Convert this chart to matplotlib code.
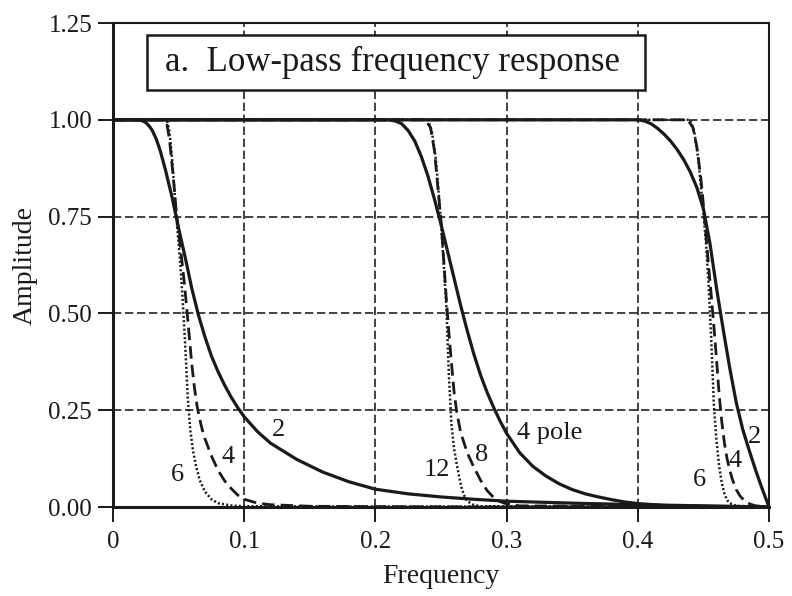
import matplotlib
matplotlib.use("Agg")
import matplotlib.pyplot as plt
from matplotlib.patches import Rectangle

plt.rcParams['font.family'] = ['Liberation Serif', 'DejaVu Serif']

# ---- data ----
# cutoff 0.05 group
f_lo2 = [0, 0.02, 0.022, 0.025, 0.028, 0.03, 0.033, 0.036, 0.04, 0.045, 0.05, 0.055, 0.06, 0.065,
         0.07, 0.075, 0.08, 0.085, 0.09, 0.095, 0.1, 0.11, 0.12, 0.14, 0.16, 0.18, 0.2, 0.225,
         0.25, 0.275, 0.3, 0.35, 0.4, 0.45, 0.5]
a_lo2 = [1.0, 1.0, 0.998, 0.993, 0.982, 0.972, 0.95, 0.92, 0.87, 0.80, 0.72, 0.645, 0.565, 0.497,
         0.44, 0.39, 0.35, 0.315, 0.284, 0.257, 0.233, 0.195, 0.165, 0.123, 0.09, 0.065, 0.046, 0.034,
         0.026, 0.02, 0.015, 0.01, 0.006, 0.003, 0.0]

f_lo4 = [0, 0.038, 0.041, 0.043, 0.046, 0.048, 0.05, 0.052, 0.054, 0.056, 0.058, 0.06, 0.062,
         0.064, 0.066, 0.068, 0.07, 0.075, 0.08, 0.085, 0.09, 0.095, 0.1, 0.11, 0.12, 0.15, 0.2,
         0.3, 0.5]
a_lo4 = [1.0, 1.0, 0.99, 0.95, 0.85, 0.77, 0.71, 0.65, 0.59, 0.52, 0.445, 0.37, 0.31,
         0.262, 0.228, 0.2, 0.177, 0.132, 0.095, 0.068, 0.048, 0.031, 0.02, 0.01, 0.006, 0.002, 0.001,
         0.0, 0.0]

f_lo6 = [0, 0.041, 0.043, 0.045, 0.047, 0.049, 0.051, 0.053, 0.055, 0.057, 0.059, 0.061,
         0.063, 0.066, 0.07, 0.075, 0.08, 0.09, 0.1, 0.5]
a_lo6 = [1.0, 1.0, 0.97, 0.9, 0.81, 0.72, 0.64, 0.54, 0.42, 0.28, 0.195, 0.145,
         0.11, 0.07, 0.04, 0.02, 0.01, 0.004, 0.002, 0.0]

# cutoff 0.25 group
f_mid4 = [0, 0.21, 0.215, 0.22, 0.225, 0.23, 0.235, 0.24, 0.245, 0.25, 0.255, 0.26, 0.265, 0.27,
          0.275, 0.28, 0.285, 0.29, 0.295, 0.3, 0.31, 0.32, 0.33, 0.34, 0.35, 0.36, 0.37, 0.38,
          0.39, 0.4, 0.42, 0.45, 0.5]
a_mid4 = [1.0, 1.0, 0.997, 0.99, 0.972, 0.945, 0.905, 0.855, 0.795, 0.73, 0.66, 0.59, 0.52, 0.455,
          0.395, 0.342, 0.297, 0.258, 0.222, 0.19, 0.14, 0.105, 0.08, 0.06, 0.045, 0.034, 0.026,
          0.019, 0.013, 0.009, 0.004, 0.002, 0.0]

f_mid8 = [0, 0.238, 0.242, 0.245, 0.248, 0.25, 0.252, 0.254, 0.256, 0.258, 0.26, 0.262, 0.265,
          0.27, 0.275, 0.28, 0.285, 0.29, 0.295, 0.3, 0.31, 0.5]
a_mid8 = [1.0, 1.0, 0.98, 0.92, 0.81, 0.74, 0.64, 0.54, 0.45, 0.37, 0.295, 0.245, 0.192,
          0.14, 0.103, 0.07, 0.043, 0.025, 0.014, 0.008, 0.003, 0.0]

f_mid12 = [0, 0.24, 0.243, 0.246, 0.248, 0.25, 0.252, 0.254, 0.256, 0.258, 0.26, 0.262, 0.264,
           0.266, 0.268, 0.27, 0.275, 0.28, 0.5]
a_mid12 = [1.0, 1.0, 0.97, 0.9, 0.82, 0.73, 0.63, 0.52, 0.34, 0.21, 0.15, 0.11, 0.075,
           0.045, 0.027, 0.015, 0.005, 0.002, 0.0]

# cutoff 0.45 group
f_hi2 = [0, 0.4, 0.405, 0.41, 0.415, 0.42, 0.425, 0.43, 0.435, 0.44, 0.445, 0.45, 0.455, 0.46,
         0.465, 0.47, 0.475, 0.48, 0.485, 0.49, 0.495, 0.5]
a_hi2 = [1.0, 1.0, 0.997, 0.99, 0.978, 0.963, 0.945, 0.923, 0.897, 0.865, 0.825, 0.77, 0.68, 0.565,
         0.46, 0.36, 0.27, 0.2, 0.145, 0.093, 0.045, 0.0]

f_hi4 = [0, 0.438, 0.442, 0.445, 0.448, 0.45, 0.452, 0.454, 0.456, 0.458, 0.46, 0.462, 0.464,
         0.466, 0.468, 0.47, 0.472, 0.475, 0.478, 0.482, 0.486, 0.49, 0.5]
a_hi4 = [1.0, 1.0, 0.98, 0.93, 0.85, 0.78, 0.7, 0.62, 0.545, 0.465, 0.38, 0.29, 0.22,
         0.165, 0.125, 0.096, 0.072, 0.045, 0.028, 0.014, 0.007, 0.003, 0.0]

f_hi6 = [0, 0.44, 0.443, 0.446, 0.448, 0.45, 0.452, 0.454, 0.456, 0.458, 0.46, 0.462, 0.464,
         0.466, 0.468, 0.47, 0.475, 0.5]
a_hi6 = [1.0, 1.0, 0.97, 0.9, 0.83, 0.76, 0.68, 0.57, 0.43, 0.26, 0.17, 0.105, 0.062,
         0.035, 0.018, 0.01, 0.003, 0.0]

x_ticks = [0, 0.1, 0.2, 0.3, 0.4, 0.5]
x_tick_labels = ['0', '0.1', '0.2', '0.3', '0.4', '0.5']
y_ticks = [0, 0.25, 0.5, 0.75, 1.0, 1.25]
y_tick_labels = ['0.00', '0.25', '0.50', '0.75', '1.00', '1.25']

curve_labels = ['2', '4', '6', '4 pole', '8', '12', '2', '4', '6']
label_x = [0.126, 0.0877, 0.0488, 0.308, 0.281, 0.247, 0.489, 0.474, 0.447]
label_y = [0.2, 0.13, 0.083, 0.19, 0.134, 0.096, 0.18, 0.12, 0.07]
label_ha = ['center', 'center', 'center', 'left', 'center', 'center', 'center', 'center', 'center']

# ---- figure ----
fig = plt.figure(figsize=(7.92, 5.96), dpi=100)
ax = fig.add_axes([0.1427, 0.1493, 0.8283, 0.8121])

ax.set_xlim(0, 0.5)
ax.set_ylim(0, 1.25)

ax.grid(True, color='#222222', linestyle=(0, (5, 2.2)), linewidth=1.2, zorder=1)
ax.set_axisbelow(True)

solid_kw = dict(color='#1a1a1a', linewidth=2.3, linestyle='-', zorder=3, solid_capstyle='butt')
dash_kw = dict(color='#1a1a1a', linewidth=2.0, linestyle=(0, (4.5, 2.2)), zorder=3)
dot_kw = dict(color='#1a1a1a', linewidth=1.8, linestyle=(0, (0.8, 0.9)), zorder=3)

ax.plot(f_lo2, a_lo2, **solid_kw)
ax.plot(f_lo4, a_lo4, **dash_kw)
ax.plot(f_lo6, a_lo6, **dot_kw)
ax.plot(f_mid4, a_mid4, **solid_kw)
ax.plot(f_mid8, a_mid8, **dash_kw)
ax.plot(f_mid12, a_mid12, **dot_kw)
ax.plot(f_hi2, a_hi2, **solid_kw)
ax.plot(f_hi4, a_hi4, **dash_kw)
ax.plot(f_hi6, a_hi6, **dot_kw)

for t, x, y, ha in zip(curve_labels, label_x, label_y, label_ha):
    ax.text(x, y, t, fontsize=19, ha=ha, va='center', color='#1a1a1a', zorder=4)

ax.set_xticks(x_ticks)
ax.set_xticklabels(x_tick_labels)
ax.set_yticks(y_ticks)
ax.set_yticklabels(y_tick_labels)
ax.tick_params(axis='both', direction='out', length=11, width=1.4, labelsize=18,
               colors='#1a1a1a')
ax.tick_params(axis='x', pad=6)
ax.tick_params(axis='y', pad=4)

for s in ['left', 'bottom']:
    ax.spines[s].set_linewidth(2.2)
for s in ['top', 'right']:
    ax.spines[s].set_linewidth(1.5)
for s in ax.spines.values():
    s.set_color('#1a1a1a')

ax.set_xlabel('Frequency', fontsize=20, color='#1a1a1a', labelpad=8)
ax.set_ylabel('Amplitude', fontsize=20, color='#1a1a1a', labelpad=8)

# title box
ax.add_patch(Rectangle((0.026, 1.0775), 0.3795, 0.142, transform=ax.transData,
                       facecolor='white', edgecolor='#1a1a1a', linewidth=1.8, zorder=5))
ax.text(0.0396, 1.148, 'a.  Low-pass frequency response', fontsize=25,
        ha='left', va='center', color='#1a1a1a', zorder=6)

fig.savefig('out.png', dpi=100)
